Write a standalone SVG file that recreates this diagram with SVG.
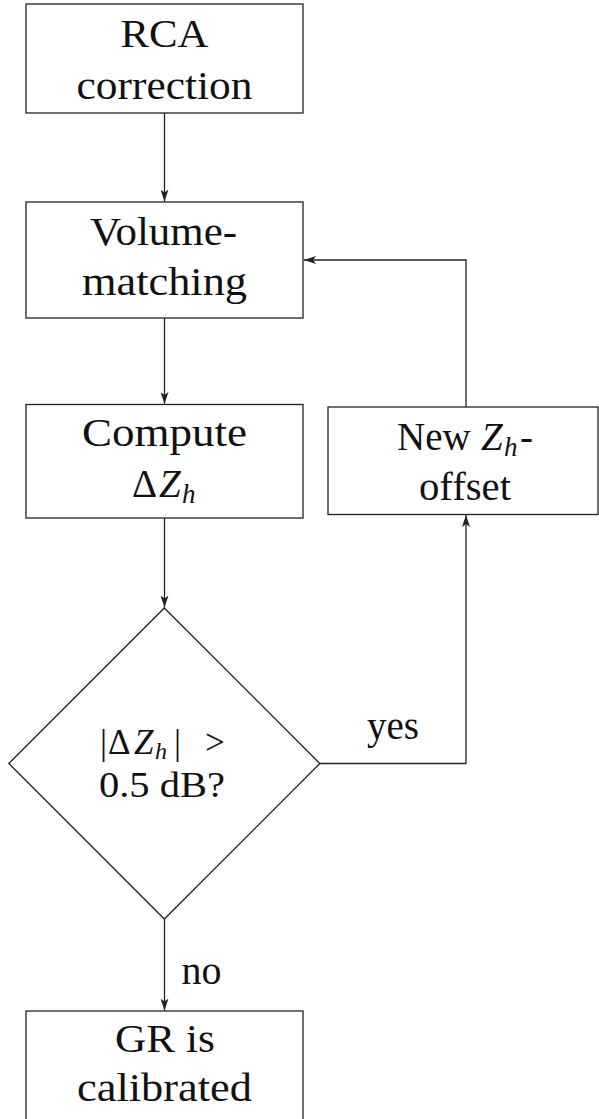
<svg xmlns="http://www.w3.org/2000/svg" width="599" height="1119" viewBox="0 0 599 1119">
<style>
  .box { fill: #ffffff; stroke: #222222; stroke-width: 1.3; }
  .conn { fill: none; stroke: #222222; stroke-width: 1.3; }
  .t { font-family: "Liberation Serif", "Times New Roman", "DejaVu Serif", serif; font-size: 39px; fill: #111111; }
  .d { font-family: "Liberation Serif", "Times New Roman", "DejaVu Serif", serif; font-size: 35px; fill: #111111; }
  .c { text-anchor: middle; }
  .it { font-style: italic; }
  .sub { font-style: italic; font-size: 27px; }
  .dsub { font-style: italic; font-size: 24px; }
</style>
<defs>
  <marker id="arr" markerUnits="userSpaceOnUse" markerWidth="12" markerHeight="8" viewBox="0 0 12 8" refX="12" refY="4" orient="auto">
    <path d="M0,0 L12,4 L0,8 L3,4 z" fill="#222222"/>
  </marker>
</defs>
<rect width="599" height="1119" fill="#ffffff"/>

<g id="connectors">
  <path class="conn" d="M164.5,113 V201.5" marker-end="url(#arr)"/>
  <path class="conn" d="M164.5,318 V404" marker-end="url(#arr)"/>
  <path class="conn" d="M164.5,518 V607.5" marker-end="url(#arr)"/>
  <path class="conn" d="M164.5,919 V1010.5" marker-end="url(#arr)"/>
  <path class="conn" d="M320,763.5 H466 V515" marker-end="url(#arr)"/>
  <path class="conn" d="M466,407 V260 H304" marker-end="url(#arr)"/>
  <text class="t" x="367" y="739" textLength="52" lengthAdjust="spacingAndGlyphs">yes</text>
  <text class="t" x="181.5" y="984" textLength="40" lengthAdjust="spacingAndGlyphs">no</text>
</g>

<g id="rca">
  <rect class="box" x="26" y="4" width="277" height="109"/>
  <text class="t c" x="164.5" y="47" textLength="88" lengthAdjust="spacingAndGlyphs">RCA</text>
  <text class="t c" x="164.5" y="99" textLength="176" lengthAdjust="spacingAndGlyphs">correction</text>
</g>

<g id="volume">
  <rect class="box" x="26" y="202" width="277" height="116"/>
  <text class="t c" x="163.5" y="245" textLength="147" lengthAdjust="spacingAndGlyphs">Volume-</text>
  <text class="t c" x="164.5" y="295" textLength="165" lengthAdjust="spacingAndGlyphs">matching</text>
</g>

<g id="compute">
  <rect class="box" x="26" y="404.5" width="277" height="113.5"/>
  <text class="t c" x="164.5" y="446" textLength="165" lengthAdjust="spacingAndGlyphs">Compute</text>
  <text class="t"><tspan x="132" y="497">Δ</tspan><tspan class="it" x="159" y="497">Z</tspan><tspan class="sub" x="182" y="503">h</tspan></text>
</g>

<g id="newoffset">
  <rect class="box" x="328" y="407" width="270" height="107.5"/>
  <text class="t"><tspan x="397" y="450">New</tspan><tspan class="it" x="481" y="450">Z</tspan><tspan class="sub" x="504" y="456">h</tspan><tspan x="520" y="450">-</tspan></text>
  <text class="t c" x="465" y="500" textLength="92" lengthAdjust="spacingAndGlyphs">offset</text>
</g>

<g id="decision">
  <polygon class="box" points="164.3,608 319.8,763.5 164.3,919 8.8,763.5"/>
  <text class="d"><tspan x="100" y="754">|</tspan><tspan x="108" y="754">Δ</tspan><tspan class="it" x="134" y="754">Z</tspan><tspan class="dsub" x="155" y="759">h</tspan><tspan x="174" y="754">|</tspan><tspan x="205" y="754">&gt;</tspan></text>
  <text class="d c" x="162" y="797" textLength="126" lengthAdjust="spacingAndGlyphs">0.5 dB?</text>
</g>

<g id="calibrated">
  <rect class="box" x="26" y="1011" width="277" height="120"/>
  <text class="t c" x="165" y="1052" textLength="100" lengthAdjust="spacingAndGlyphs">GR is</text>
  <text class="t c" x="164.5" y="1101" textLength="175" lengthAdjust="spacingAndGlyphs">calibrated</text>
</g>
</svg>
